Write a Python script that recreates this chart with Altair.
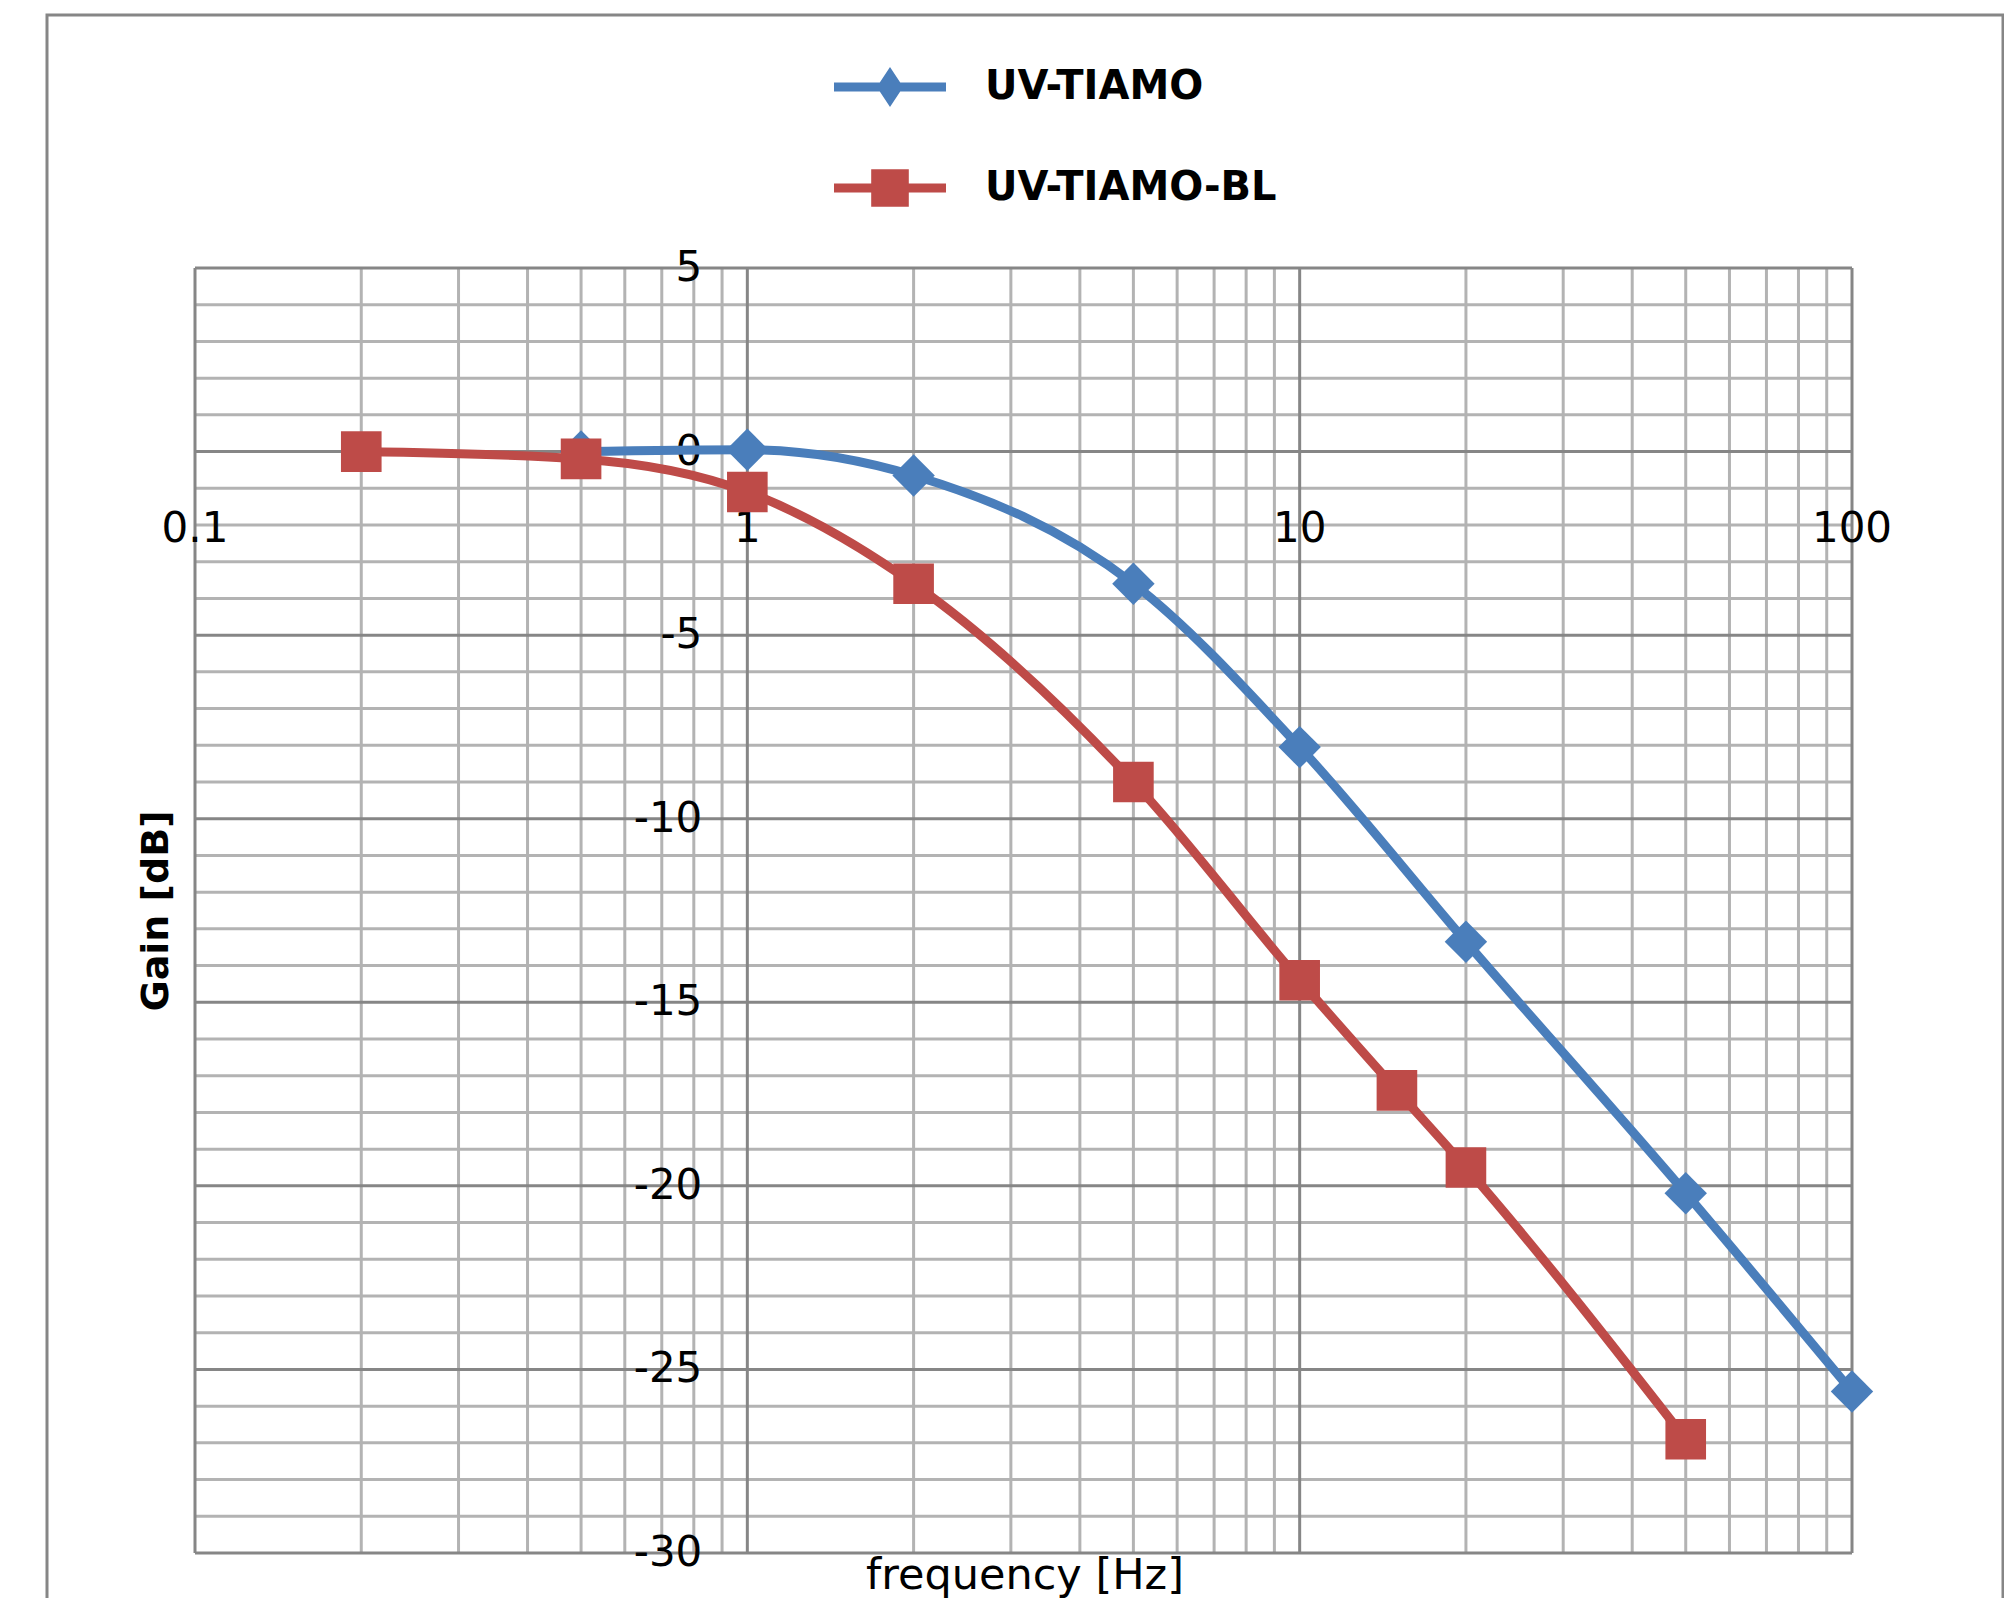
import altair as alt
import pandas as pd

FONT = "DejaVu Sans"

series_names = ["UV-TIAMO", "UV-TIAMO-BL"]
series_colors = ["#4A7EBB", "#BE4B48"]

tiamo_freq = [0.5, 1, 2, 5, 10, 20, 50, 100]
tiamo_gain = [0.0, 0.05, -0.65, -3.6, -8.05, -13.35, -20.2, -25.6]

bl_freq = [0.2, 0.5, 1, 2, 5, 10, 15, 20, 50]
bl_gain = [0.0, -0.2, -1.1, -3.6, -9.0, -14.4, -17.4, -19.5, -26.9]

x_major = [0.1, 1, 10, 100]
x_tick_labels = ["0.1", "1", "10", "100"]
x_minor = [0.2, 0.3, 0.4, 0.5, 0.6, 0.7, 0.8, 0.9,
           2, 3, 4, 5, 6, 7, 8, 9,
           20, 30, 40, 50, 60, 70, 80, 90]
y_major = [-30, -25, -20, -15, -10, -5, 0, 5]
y_tick_labels = ["-30", "-25", "-20", "-15", "-10", "-5", "0", "5"]
y_minor = [-29, -28, -27, -26, -24, -23, -22, -21, -19, -18, -17, -16,
           -14, -13, -12, -11, -9, -8, -7, -6, -4, -3, -2, -1, 1, 2, 3, 4]

x_title = "frequency [Hz]"
y_title = "Gain [dB]"

W, H = 1657, 1285

tiamo_df = pd.DataFrame({"freq": tiamo_freq, "gain": tiamo_gain,
                         "idx": list(range(len(tiamo_freq)))})
bl_df = pd.DataFrame({"freq": bl_freq, "gain": bl_gain,
                      "idx": list(range(len(bl_freq)))})
legend_df = pd.DataFrame({"series": series_names})
xlab_df = pd.DataFrame({"freq": x_major, "gain": [0] * len(x_major),
                        "label": x_tick_labels})
ylab_df = pd.DataFrame({"freq": [1] * len(y_major), "gain": y_major,
                        "label": y_tick_labels})

xs = alt.Scale(type="log", domain=[0.1, 100], nice=False)
ys = alt.Scale(domain=[-30, 5], nice=False, zero=False)


def X(field="freq"):
    return alt.X(f"{field}:Q", scale=xs, axis=None)


def Y(field="gain"):
    return alt.Y(f"{field}:Q", scale=ys, axis=None)


MINOR = "#B3B3B3"
MAJOR = "#868686"

gx_minor = alt.Chart(pd.DataFrame({"freq": x_minor})).mark_rule(
    color=MINOR, strokeWidth=3).encode(x=X())
gy_minor = alt.Chart(pd.DataFrame({"gain": y_minor})).mark_rule(
    color=MINOR, strokeWidth=3).encode(y=Y())
gx_major = alt.Chart(pd.DataFrame({"freq": x_major})).mark_rule(
    color=MAJOR, strokeWidth=3).encode(x=X())
gy_major = alt.Chart(pd.DataFrame({"gain": y_major})).mark_rule(
    color=MAJOR, strokeWidth=3).encode(y=Y())

x_labels = alt.Chart(xlab_df).mark_text(
    font=FONT, fontSize=42, color="#000000", align="center",
    baseline="top", dy=57).encode(x=X(), y=Y(), text="label:N")
y_labels = alt.Chart(ylab_df).mark_text(
    font=FONT, fontSize=42, color="#000000", align="right",
    baseline="middle", dx=-45).encode(x=X(), y=Y(), text="label:N")

title_layer_x = alt.Chart(alt.Data(values=[{"t": x_title}])).mark_text(
    font=FONT, fontSize=43, color="#000000", align="center",
    baseline="middle").encode(
    x=alt.value(830), y=alt.value(1308), text="t:N")
title_layer_y = alt.Chart(alt.Data(values=[{"t": y_title}])).mark_text(
    font=FONT, fontSize=38, fontWeight="bold", color="#000000",
    align="center", baseline="middle", angle=270).encode(
    x=alt.value(-38), y=alt.value(643), text="t:N")

blue_line = alt.Chart(tiamo_df).mark_line(
    color=series_colors[0], strokeWidth=9, interpolate="monotone").encode(
    x=X(), y=Y(), order="idx:Q")
blue_pts = alt.Chart(tiamo_df).mark_point(
    color=series_colors[0], filled=True, opacity=1, shape="diamond",
    size=1800).encode(x=X(), y=Y())
red_line = alt.Chart(bl_df).mark_line(
    color=series_colors[1], strokeWidth=9, interpolate="monotone").encode(
    x=X(), y=Y(), order="idx:Q")
red_pts = alt.Chart(bl_df).mark_point(
    color=series_colors[1], filled=True, opacity=1, shape="square",
    size=1650).encode(x=X(), y=Y())

path_blue = ("M-1.4,-0.11H1.4V0.11H-1.4Z "
             "M0,-0.5L0.33,0L0,0.5L-0.33,0Z")
path_red = ("M-1.4,-0.11H1.4V0.11H-1.4Z "
            "M-0.47,-0.47H0.47V0.47H-0.47Z")

leg = dict(
    orient="none", legendX=655, legendY=-221, direction="vertical",
    title=None, padding=0, symbolSize=6400, symbolStrokeWidth=0,
    symbolOpacity=1, labelFont=FONT, labelFontSize=40,
    labelFontWeight="bold", labelColor="#000000", labelOffset=55,
    labelLimit=800, rowPadding=41, labelBaseline="middle",
)

legend_layer = alt.Chart(legend_df).transform_filter("false").mark_point(
    filled=True, opacity=1).encode(
    color=alt.Color("series:N",
                    scale=alt.Scale(domain=series_names, range=series_colors),
                    legend=alt.Legend(**leg)),
    shape=alt.Shape("series:N",
                    scale=alt.Scale(domain=series_names,
                                    range=[path_blue, path_red]),
                    legend=alt.Legend(**leg)),
)

frame = alt.Chart(alt.Data(values=[{"a": 1}])).mark_rect(
    filled=False, color=MAJOR, strokeWidth=3).encode(
    x=alt.value(-148), x2=alt.value(1808), y=alt.value(-253), y2=alt.value(1400))

chart = alt.layer(
    frame, gx_minor, gy_minor, gx_major, gy_major,
    x_labels, y_labels, title_layer_x, title_layer_y,
    blue_line, blue_pts, red_line, red_pts, legend_layer,
).properties(
    width=W, height=H,
    padding={"left": 187, "top": 260, "right": 152, "bottom": 45},
    autosize=alt.AutoSizeParams(type="none"),
    background="white",
).configure_view(strokeWidth=0)

chart.save("out.html", embed_options={"renderer": "svg", "actions": False})
